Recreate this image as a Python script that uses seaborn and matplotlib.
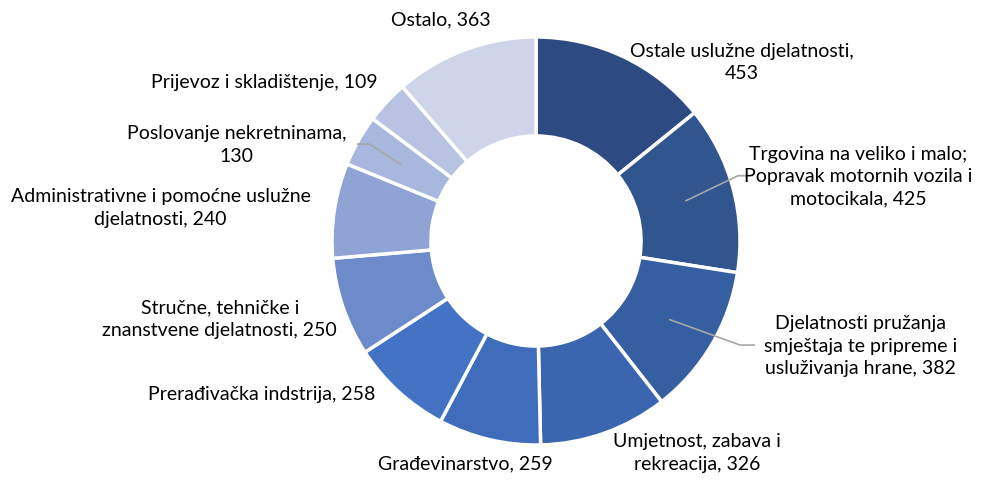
import numpy as np
import matplotlib
matplotlib.use("Agg")
import matplotlib.pyplot as plt
import seaborn as sns

# data
categories = [
    "Ostale uslužne djelatnosti,\n453",
    "Trgovina na veliko i malo;\nPopravak motornih vozila i\nmotocikala, 425",
    "Djelatnosti pružanja\nsmještaja te pripreme i\nusluživanja hrane, 382",
    "Umjetnost, zabava i\nrekreacija, 326",
    "Građevinarstvo, 259",
    "Prerađivačka indstrija, 258",
    "Stručne, tehničke i\nznanstvene djelatnosti, 250",
    "Administrativne i pomoćne uslužne\ndjelatnosti, 240",
    "Poslovanje nekretninama,\n130",
    "Prijevoz i skladištenje, 109",
    "Ostalo, 363",
]
values = [453, 425, 382, 326, 259, 258, 250, 240, 130, 109, 363]
colors = ["#2D4B82", "#31558F", "#365FA2", "#3B66AF", "#3F6DBB", "#4472C4",
          "#6D8BCB", "#8FA3D4", "#A8B7DE", "#B8C3E3", "#CED4E9"]

# label layout (data units, radius 1 = outer edge)
label_pos = [(1.01, 0.88), (1.58, 0.32), (1.59, -0.51), (0.79, -1.035),
             (-0.345, -1.088), (-1.345, -0.75), (-1.55, -0.377), (-1.84, 0.167),
             (-1.466, 0.475), (-1.33, 0.784), (-0.466, 1.088)]
leaders = {1: "left", 2: "left", 8: "right"}

sns.set_theme(style="white")
plt.rcParams["font.family"] = ["Lato", "DejaVu Sans"]

fig = plt.figure(figsize=(9.89, 4.81), dpi=100)
ax = fig.add_axes([0, 0, 1, 1])
wedges, _ = ax.pie(values, colors=colors, startangle=90, counterclock=False,
                   radius=1.0, wedgeprops=dict(width=0.485, edgecolor="white", linewidth=2.5))

for i, (w, lab) in enumerate(zip(wedges, categories)):
    tx, ty = label_pos[i]
    ax.text(tx, ty, lab, ha="center", va="center", fontsize=14, color="#000000",
            linespacing=1.4)
    if i in leaders:
        ang = np.deg2rad((w.theta1 + w.theta2) / 2)
        r = 0.76
        sx, sy = r * np.cos(ang), r * np.sin(ang)
        if leaders[i] == "left":
            ex = tx - 0.52
            ax.plot([sx, ex - 0.07, ex], [sy, ty, ty], color="#A6A6A6", lw=1.2)
        else:
            ex = tx + 0.59
            ax.plot([sx, ex + 0.06, ex], [sy, ty, ty], color="#A6A6A6", lw=1.2)

ax.set_xlim(-536 / 204, (989 - 536) / 204)
ax.set_ylim((242 - 481) / 204, 242 / 204)
ax.set_aspect("auto")
ax.axis("off")
fig.savefig("out.png", dpi=100, facecolor="white")
